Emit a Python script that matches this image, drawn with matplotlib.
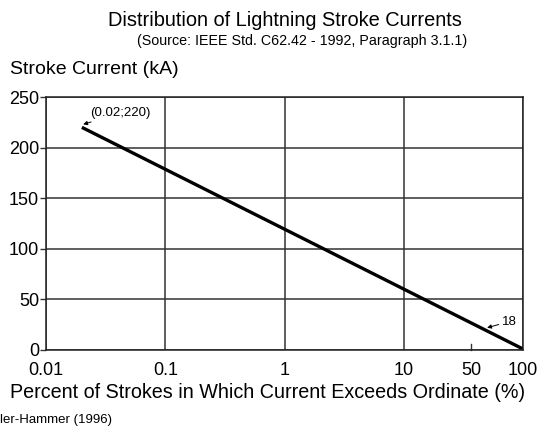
import matplotlib
matplotlib.use("Agg")
import matplotlib.pyplot as plt

plt.rcParams['font.family'] = ['Liberation Sans', 'DejaVu Sans']

# data
percent = [0.02, 100]
current_ka = [220, 1]
x_ticks = [0.01, 0.1, 1, 10, 100]
x_labels = ['0.01', '0.1', '1', '10', '100']
y_ticks = [0, 50, 100, 150, 200, 250]

fig = plt.figure(figsize=(5.39, 4.26), dpi=100)
ax = fig.add_axes([46/539, 1 - 350/426, (523 - 46)/539, (350 - 97)/426])

ax.plot(percent, current_ka, color='black', lw=2.4, solid_capstyle='butt')

ax.set_xscale('log')
ax.set_xlim(0.01, 100)
ax.set_ylim(0, 250)
ax.set_xticks(x_ticks)
ax.set_xticklabels(x_labels)
ax.minorticks_off()
ax.set_yticks(y_ticks)
ax.tick_params(axis='x', length=0, pad=8.5, labelsize=13)
ax.tick_params(axis='y', length=4, width=1.0, pad=1, labelsize=13,
               color='#333333')
ax.grid(True, color='#333333', lw=1.1)
for s in ax.spines.values():
    s.set_color('#222222')
    s.set_linewidth(1.1)

# the short inward mark labelled 50 sits here on the original scale
ax.plot([36.7, 36.7], [0, 6], color='#333333', lw=1.0, clip_on=False)
ax.text(36.7, -0.047, '50', transform=ax.get_xaxis_transform(),
        ha='center', va='top', fontsize=13)

ax.annotate('(0.02;220)', xy=(0.0205, 223), xytext=(0.0235, 234),
            fontsize=9.5, ha='left', va='center',
            arrowprops=dict(arrowstyle='-|>', color='black', lw=0.7,
                            mutation_scale=6, shrinkA=0, shrinkB=0))
ax.annotate('18', xy=(50, 22), xytext=(66, 28),
            fontsize=9.5, ha='left', va='center',
            arrowprops=dict(arrowstyle='-|>', color='black', lw=0.7,
                            mutation_scale=6, shrinkA=0, shrinkB=0))

ax.set_xlabel('Percent of Strokes in Which Current Exceeds Ordinate (%)',
              fontsize=14.2)
ax.xaxis.set_label_coords((268 - 46) / (523 - 46), -(393 - 350) / (350 - 97))
ax.xaxis.label.set_va('center')

fig.text(285/539, 1 - 20/426, 'Distribution of Lightning Stroke Currents',
         ha='center', va='center', fontsize=14.4)
fig.text(302/539, 1 - 41/426, '(Source: IEEE Std. C62.42 - 1992, Paragraph 3.1.1)',
         ha='center', va='center', fontsize=10.3)
fig.text(10/539, 1 - 69/426, 'Stroke Current (kA)', ha='left', va='center',
         fontsize=14)
fig.text(0, 1 - 420/426, 'ler-Hammer (1996)', ha='left', va='center',
         fontsize=9.5)

fig.savefig('out.png', dpi=100)
